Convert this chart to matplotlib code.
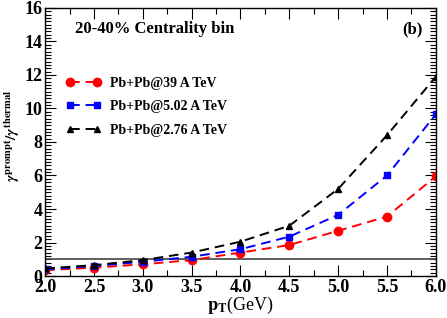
import numpy as np
import matplotlib
matplotlib.use("Agg")
import matplotlib.pyplot as plt
from matplotlib.ticker import MultipleLocator

plt.rcParams['font.family'] = ['Liberation Serif', 'DejaVu Serif']
plt.rcParams['font.weight'] = 'bold'
plt.rcParams['mathtext.fontset'] = 'stix'

# data
pt = [2.0, 2.5, 3.0, 3.5, 4.0, 4.5, 5.0, 5.5, 6.0]
ratio_39 = [0.35, 0.5, 0.7, 0.95, 1.4, 1.85, 2.7, 3.55, 5.95]
ratio_502 = [0.4, 0.6, 0.85, 1.15, 1.6, 2.35, 3.65, 6.0, 9.65]
ratio_276 = [0.45, 0.65, 0.95, 1.4, 2.05, 3.0, 5.2, 8.4, 11.9]
labels = ['Pb+Pb@39 A TeV', 'Pb+Pb@5.02 A TeV', 'Pb+Pb@2.76 A TeV']

fig = plt.figure(figsize=(4.47, 3.18), dpi=100)
ax = fig.add_axes([0.101, 0.132, 0.874, 0.843])

ax.axhline(1.0, color='#444444', lw=1.2)

ax.plot(pt, ratio_39, ls=(0, (5, 3)), color='red', lw=1.4, marker='o', ms=6, label=labels[0])
ax.plot(pt, ratio_502, ls=(0, (5, 3)), color='blue', lw=1.4, marker='s', ms=5, label=labels[1])
ax.plot(pt, ratio_276, ls=(0, (5, 3)), color='black', lw=1.4, marker='^', ms=5, label=labels[2])

ax.set_xlim(2.0, 6.0)
ax.set_ylim(0, 16)
ax.xaxis.set_major_locator(MultipleLocator(0.5))
ax.xaxis.set_minor_locator(MultipleLocator(0.25))
ax.yaxis.set_major_locator(MultipleLocator(2))
ax.yaxis.set_minor_locator(MultipleLocator(0.2))
ax.xaxis.set_major_formatter(plt.FormatStrFormatter('%.1f'))
ax.tick_params(which='both', direction='in', top=True, right=True, labelsize=13, pad=2)
ax.tick_params(which='major', length=8, width=0.8)
ax.tick_params(which='minor', length=4, width=0.8)
for s in ax.spines.values():
    s.set_linewidth(1.0)

ax.set_xlabel(r'$\mathbf{p_T}$(GeV)', fontsize=13, labelpad=-1)
fig.text(12 / 447, 1 - 136 / 318, r'$\gamma^{\mathbf{prompt}}/\gamma^{\mathbf{thermal}}$',
         fontsize=11, rotation=90, ha='center', va='center')

ax.text(0.077, 0.92, '20-40% Centrality bin', transform=ax.transAxes, fontsize=12, fontweight='bold', va='center')
ax.text(0.965, 0.92, '(b)', transform=ax.transAxes, fontsize=12, fontweight='bold', va='center', ha='right')

ax.legend(loc='upper left', bbox_to_anchor=(0.02, 0.79), frameon=False, fontsize=10, numpoints=2,
          handlelength=2.6, labelspacing=0.75, handletextpad=0.6)

fig.savefig('out.png', dpi=100)
